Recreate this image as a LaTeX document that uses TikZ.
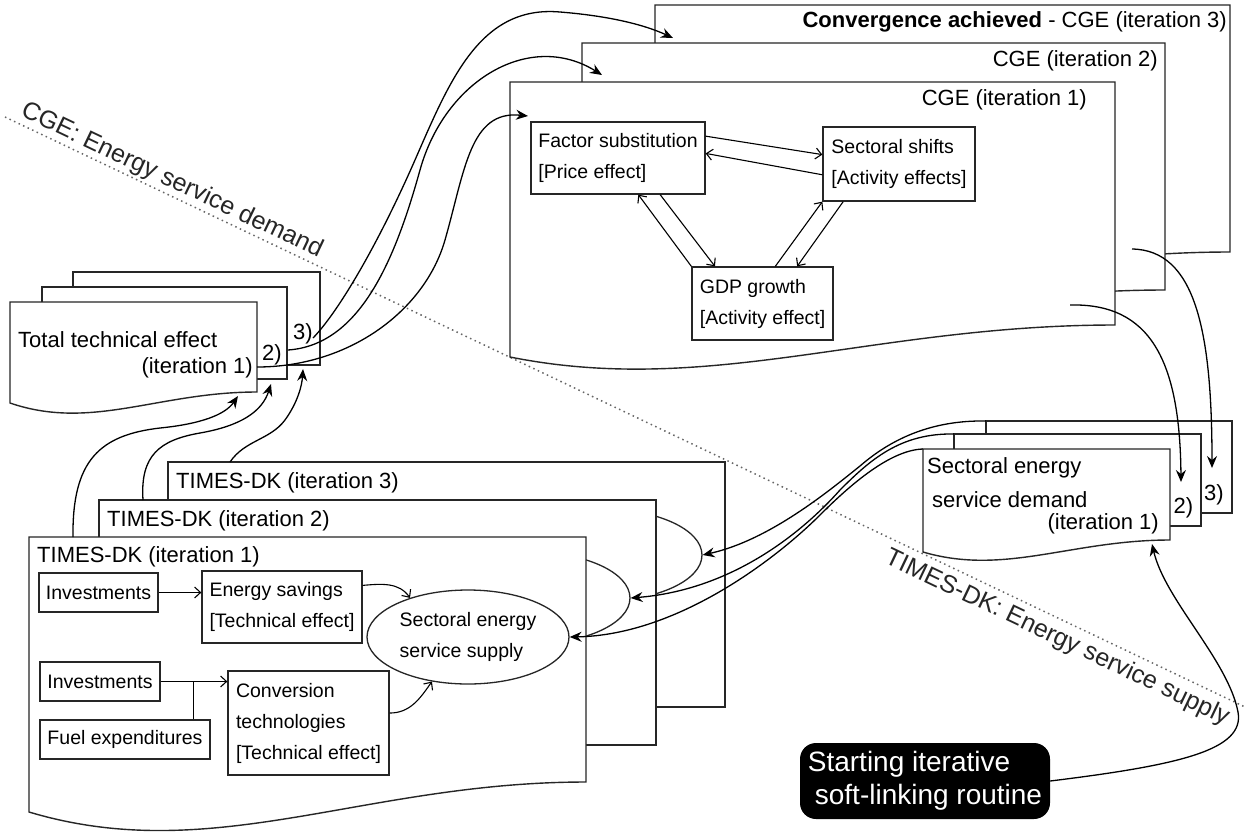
\documentclass[tikz,border=0pt]{standalone}
\usepackage{fontspec}
\setmainfont{Liberation Sans}
\usetikzlibrary{arrows.meta,shapes.geometric,calc}
\newcommand{\mydoc}[6]{%
  \pgfmathsetmacro{\mdA}{#1+0.6*(#3-#1)}%
  \pgfmathsetmacro{\mdB}{#1+0.33*(#3-#1)}%
  \pgfmathsetmacro{\mdK}{#5+#6}%
  \draw[docbox] (#1,#2) -- (#3,#2) -- (#3,#4) .. controls (\mdA,#4) and (\mdB,\mdK) .. (#1,#5) -- cycle;}
\begin{document}
\begin{tikzpicture}[x=1pt,y=-1pt,
  docbox/.style={fill=white,draw=black!85,line width=1.4pt},
  inbox/.style={draw=black!85,line width=1.3pt,fill=white,align=left,inner xsep=7pt,inner ysep=0pt,font=\fontsize{19.5}{31}\selectfont},
  big/.style={font=\fontsize{22}{26}\selectfont,inner sep=0pt},
  diag/.style={font=\fontsize{25}{28}\selectfont,inner sep=0pt,rotate=-25.44,text=black!85},
  link/.style={line width=1.3pt,-{Stealth[length=12pt,width=10pt,inset=4pt]}},
  inlink/.style={line width=1.1pt,-{Straight Barb[length=6pt,width=11pt]}},
  hidell/.style={ellipse,draw=black!85,line width=1.3pt,minimum width=200pt,minimum height=92pt,inner sep=0pt},
]
\useasboundingbox (0,0) rectangle (1245,831);
\fill[white] (0,0) rectangle (1245,831);

% dotted divider
\coordinate (dl1) at (5,117);
\coordinate (dl2) at (1245,707);
\draw[black!60,line width=1.5pt,dash pattern=on 1.5pt off 3.5pt] (dl1) -- (dl2);
\node[diag] (lcge) at (172,181) {CGE: Energy service demand};
\node[diag] (ltimes) at (1057,638) {TIMES-DK: Energy service supply};

% ---------- CGE stack
\mydoc{655}{5}{1230}{252}{284}{40}
\node[big,anchor=east] (cget3) at (1227,22) {\textbf{Convergence achieved} - CGE (iteration 3)};
\mydoc{582}{43}{1165}{290}{322}{40}
\node[big,anchor=east] (cget2) at (1158,61) {CGE (iteration 2)};
\mydoc{510}{82}{1115}{325}{357}{40}
\node[big,anchor=east] (cget1) at (1087,100) {CGE (iteration 1)};

\node[inbox,minimum width=174pt,minimum height=72pt] (fs) at (618,158) {Factor substitution\\{}[Price effect]};
\node[inbox,minimum width=152pt,minimum height=74pt] (ss) at (899,164) {Sectoral shifts\\{}[Activity effects]};
\node[inbox,minimum width=141pt,minimum height=73pt] (gdp) at (762.5,303.5) {GDP growth\\{}[Activity effect]};
\draw[inlink] (fs.14) -- (ss.173);
\draw[inlink] (ss.188) -- (fs.3);
\draw[inlink] (fs.-41) -- (gdp.142);
\draw[inlink] (gdp.north west) -- (fs.-61);
\draw[inlink] (gdp.71) -- (ss.south west);
\draw[inlink] (ss.214) -- (gdp.47);

% ---------- Total technical effect stack
\draw[docbox] (73,272) rectangle (320,365);
\node[big] (tt3lab) at (303,334) {3)};
\draw[docbox] (42,287) rectangle (287,379);
\node[big] (tt2lab) at (272,355) {2)};
\mydoc{10}{302}{257}{392}{403}{28}
\node[big,anchor=west] (ttlab) at (18,340) {Total technical effect};
\node[big,anchor=east] (ttit) at (253,368) {(iteration 1)};

% ---------- TIMES stack
\draw[docbox] (168,462) rectangle (725,707);
\node[big,anchor=west] (tit3) at (176,483) {TIMES-DK (iteration 3)};
\node[hidell] (ell3) at (602,555) {};
\draw[docbox] (99,500) rectangle (656,745);
\node[big,anchor=west] (tit2) at (107,521) {TIMES-DK (iteration 2)};
\node[hidell] (ell2) at (530,598) {};
\mydoc{29}{537}{586}{782}{812}{55}
\node[big,anchor=west] (tit1) at (37,557) {TIMES-DK (iteration 1)};

\node[inbox,minimum width=119pt,minimum height=39pt] (inv1) at (98.5,592.5) {Investments};
\node[inbox,minimum width=160pt,minimum height=72pt] (es) at (282,607) {Energy savings\\{}[Technical effect]};
\node[inbox,minimum width=120pt,minimum height=39pt] (inv2) at (100,681.5) {Investments};
\node[inbox,minimum width=170pt,minimum height=39pt] (fuel) at (125,739.5) {Fuel expenditures};
\node[inbox,minimum width=161pt,minimum height=104pt] (conv) at (308.5,723) {Conversion\\technologies\\{}[Technical effect]};
\node[ellipse,draw=black!85,line width=1.3pt,fill=white,minimum width=202pt,minimum height=94pt,inner sep=0pt,align=left,font=\fontsize{19.5}{31}\selectfont] (ell) at (468,637) {Sectoral energy\\service supply};

\draw[inlink] (inv1.east) -- (inv1.east -| es.west);
\draw[inlink] (inv2.east) -- (inv2.east -| conv.west);
\coordinate (fj) at ([xshift=-17pt]fuel.north east);
\draw[line width=1.1pt] (fj) -- (fj |- inv2.east);
\draw[inlink] (es.15) to[out=5,in=125] (ell.146);
\draw[inlink] (conv.7) to[out=0,in=235] (ell.231);

% ---------- Sectoral energy service demand stack
\draw[docbox] (986,421) rectangle (1232,513);
\node[big] (dm3lab) at (1214,495) {3)};
\draw[docbox] (954,434) rectangle (1201,526);
\node[big] (dm2lab) at (1183.5,508) {2)};
\mydoc{923}{449}{1170}{540}{552}{24}
\node[big,anchor=west] (dml1) at (927,468) {Sectoral energy};
\node[big,anchor=west] (dml2) at (932,500) {service demand};
\node[big,anchor=east] (dml3) at (1159,524) {(iteration 1)};

% ---------- start node
\node[fill=black,text=white,rounded corners=16pt,minimum width=250pt,minimum height=76pt,align=left,inner sep=0pt,font=\fontsize{28}{33}\selectfont] (start) at (925,781) {Starting iterative\\\hspace*{7pt}soft-linking routine};

% ---------- connector end points
\coordinate (tt1out) at (257,367);
\coordinate (tt2out) at (288,350);
\coordinate (tt3out) at (313,338);
\coordinate (cge1in) at (528,116);
\coordinate (cge2in) at (602,75);
\coordinate (cge3in) at (673,38);
\coordinate (tt1in) at (238,396);
\coordinate (tt2in) at (271,384);
\coordinate (tt3in) at (303,369);
\coordinate (ti1top) at (73,537);
\coordinate (ti2top) at (143,500);
\coordinate (ti3top) at (230,462);
\coordinate (cge1out) at (1070,305);
\coordinate (cge2out) at (1132,249);
\coordinate (dm1in) at (1152,544);
\coordinate (dm2in) at (1181,482);
\coordinate (dm3in) at (1212,468);
\coordinate (dm1c) at (923,449);
\coordinate (dm2c) at (954,434);
\coordinate (dm3c) at (986,421);

% Total technical effect -> CGE
\draw[link] (tt1out) .. controls (350,367) and (425,310) .. (445,240) .. controls (465,170) and (470,110) .. (cge1in);
\draw[link] (tt2out) .. controls (360,345) and (395,260) .. (420,170) .. controls (445,80) and (530,30) .. (cge2in);
\draw[link] (tt3out) .. controls (340,310) and (380,240) .. (415,160) .. controls (450,80) and (480,5) .. (560,12) .. controls (610,16) and (645,25) .. (cge3in);

% TIMES -> Total technical effect
\draw[link] (ti1top) .. controls (72,460) and (100,435) .. (160,428) .. controls (200,424) and (225,415) .. (tt1in);
\draw[link] (ti2top) .. controls (140,455) and (160,440) .. (200,433) .. controls (240,426) and (262,412) .. (tt2in);
\draw[link] (ti3top) .. controls (245,440) and (270,440) .. (285,420) .. controls (298,402) and (302,385) .. (tt3in);

% CGE -> demand
\draw[link] (cge1out) .. controls (1150,303) and (1180,360) .. (dm2in);
\draw[link] (cge2out) .. controls (1195,250) and (1212,330) .. (dm3in);

% demand -> TIMES
\draw[link] (dm3c) .. controls (930,420) and (890,440) .. (860,466) .. controls (830,490) and (770,540) .. (ell3.east);
\draw[link] (dm2c) .. controls (900,433) and (870,460) .. (840,490) .. controls (800,535) and (730,590) .. (ell2.east);
\draw[link] (dm1c) .. controls (890,450) and (850,485) .. (820,515) .. controls (780,555) and (680,635) .. (ell.east);

% start -> demand
\draw[link] (start.east) .. controls (1180,765) and (1245,750) .. (1238,712) .. controls (1228,660) and (1165,600) .. (dm1in);
\end{tikzpicture}
\end{document}
